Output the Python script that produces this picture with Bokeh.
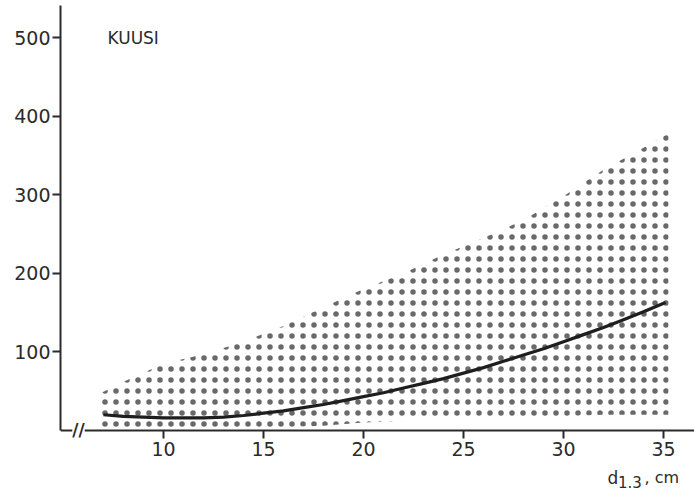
from bokeh.plotting import figure
from bokeh.models import Range1d, FixedTicker, Label
from bokeh.embed import file_html
from bokeh.resources import INLINE

# mean curve (d1.3 in cm -> value)
curve_d = [7, 8, 9, 10, 11, 12, 13, 14, 15, 16, 17, 18, 19, 20, 21, 22, 23, 24,
           25, 26, 27, 28, 29, 30, 31, 32, 33, 34, 35.1]
curve_v = [20, 18, 17, 16, 16, 16, 17, 19, 22, 25, 29, 33, 38, 43, 48, 54, 60, 66,
           73, 80, 88, 96, 104, 113, 122, 131, 141, 151, 163]

# stippled range band
band_d = [6.9, 8, 10, 12, 14, 16, 18, 20, 22, 24, 26, 28, 30, 32, 34, 35.25]
band_lower = [4, 3, 3, 3, 3, 4, 6, 10, 12, 14, 15, 17, 18, 20, 20, 20]
band_upper = [48, 62, 85, 97, 113, 133, 157, 180, 200, 224, 245, 268, 298, 332, 360, 378]

x_ticks = [10, 15, 20, 25, 30, 35]
y_ticks = [100, 200, 300, 400, 500]

FONT = "DejaVu Sans"
INK = "#2b2b2b"

p = figure(width=694, height=492, output_backend="svg", toolbar_location=None,
           x_range=Range1d(4.85, 36.55), y_range=Range1d(-79, 541),
           min_border_left=60, min_border_right=0, min_border_top=5, min_border_bottom=0)
p.outline_line_color = None
p.xgrid.visible = False
p.ygrid.visible = False
p.background_fill_color = "white"

p.varea(x=band_d, y1=band_lower, y2=band_upper, fill_alpha=0,
        hatch_pattern="dot", hatch_scale=11, hatch_weight=0.5,
        hatch_color="#444444", hatch_alpha=0.8)

p.line(curve_d, curve_v, line_color="#1e1e1e", line_width=3.2)

for ax in (p.xaxis[0], p.yaxis[0]):
    ax.axis_line_color = INK
    ax.axis_line_width = 2
    ax.major_tick_line_color = INK
    ax.major_tick_line_width = 2
    ax.minor_tick_line_color = None
    ax.major_tick_in = 0
    ax.major_tick_out = 8
    ax.major_label_text_font = FONT
    ax.major_label_text_font_size = "19px"
    ax.major_label_text_color = INK

p.xaxis[0].ticker = FixedTicker(ticks=x_ticks)
p.yaxis[0].ticker = FixedTicker(ticks=y_ticks)
p.xaxis[0].fixed_location = 0
p.xaxis[0].major_label_standoff = 4
p.yaxis[0].major_label_standoff = 2
p.yaxis[0].bounds = (0, 541)

p.add_layout(Label(x=7.2, y=500, text="KUUSI", text_font=FONT, text_font_size="17px",
                   text_color=INK, text_baseline="middle", text_align="left"))

p.add_layout(Label(x=5.75, y=0, text="//", text_font=FONT, text_font_size="17px",
                   text_font_style="bold", text_color=INK, text_baseline="middle",
                   text_align="center", background_fill_color="white"))

p.add_layout(Label(x=32.2, y=-60, text="d", text_font=FONT, text_font_size="17px",
                   text_color=INK, text_baseline="alphabetic", text_align="left"))
p.add_layout(Label(x=32.72, y=-66, text="1.3", text_font=FONT, text_font_size="15px",
                   text_color=INK, text_baseline="alphabetic", text_align="left"))
p.add_layout(Label(x=34.05, y=-60, text=", cm", text_font=FONT, text_font_size="16px",
                   text_color=INK, text_baseline="alphabetic", text_align="left"))

open("out.html", "w").write(file_html(p, INLINE))
